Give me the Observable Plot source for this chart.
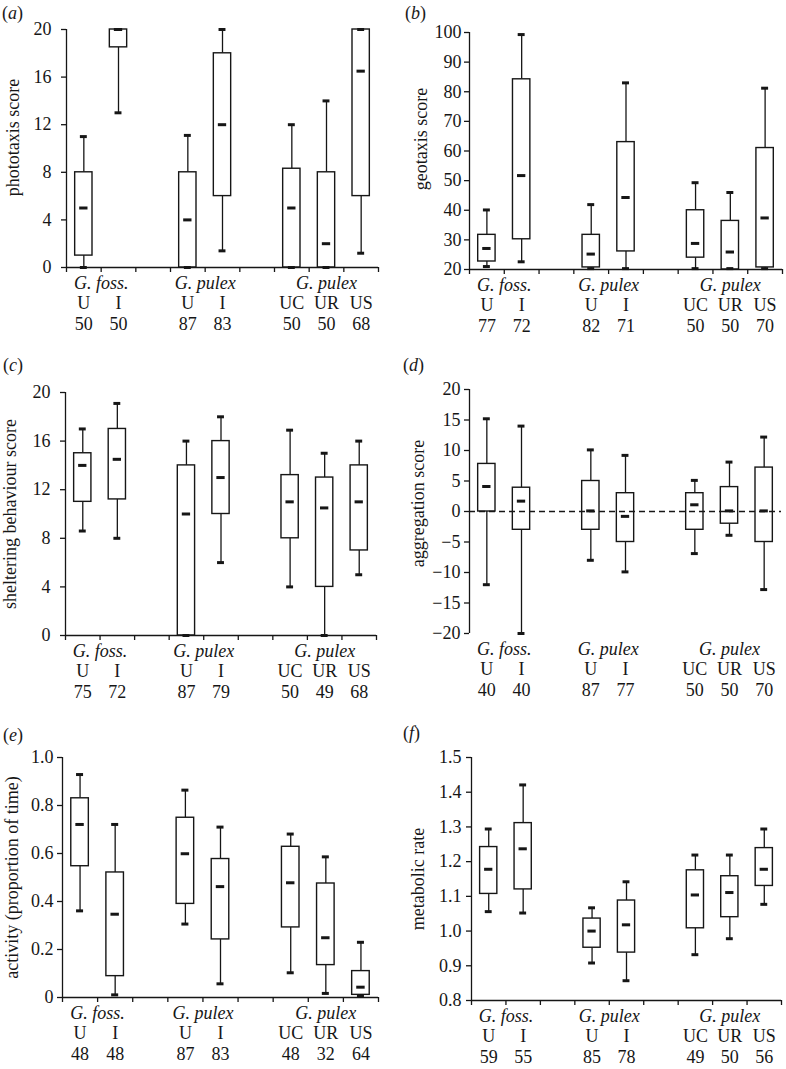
<!DOCTYPE html>
<html>
<head>
<meta charset="utf-8">
<script src="https://cdn.jsdelivr.net/npm/d3@7"></script>
<script src="https://cdn.jsdelivr.net/npm/@observablehq/plot@0.6"></script>
<style>
  body { margin: 0; background: #fff; }
  #root { position: relative; width: 786px; height: 1069px; overflow: hidden; font-family: "Liberation Serif", "Times New Roman", serif; color: #1a1a1a; }
  .panel { position: absolute; }
  .plabel { position: absolute; font-size: 18px; line-height: 20px; }
  .plabel i { font-style: italic; }
</style>
</head>
<body>
<div id="root"></div>
<script>
// ---- shared categories ----
const slots = [1, 2, 4, 5, 7, 8, 9];
const conditions = ["U", "I", "U", "I", "UC", "UR", "US"];
const groupLabels = ["G. foss.", "G. pulex", "G. pulex"];
const groupSlots = [1.5, 4.5, 8];
const xDomain = [0.5, 9.5];

// ---- box statistics per panel: [min, q1, median, q3, max] for each condition ----
const phototaxis = [[0,1,5,8,11],[13,18.5,20,20,20],[0,0,4,8,11.1],[1.4,6,12,18,20],[0,0,5,8.3,12],[0,0,2,8,14],[1.2,6,16.5,20,20]];
const nPhototaxis = [50,50,87,83,50,50,68];

const geotaxis = [[21,22.7,27.1,31.7,40.1],[22.6,30.2,51.7,84.2,99.3],[20.3,20.7,25.2,31.7,41.9],[20.3,26.1,44.3,63,83],[20.3,24,28.8,40,49.3],[20.3,20,25.9,36.4,46],[20.3,20.7,37.4,61,81.2]];
const nGeotaxis = [77,72,82,71,50,50,70];

const sheltering = [[8.6,11,14,15,17],[8,11.2,14.5,17,19.1],[0,0,10,14,16],[6,10,13,16,18],[4,8,11,13.2,16.9],[0,4,10.5,13,15],[5,7,11,14,16]];
const nSheltering = [75,72,87,79,50,49,68];

const aggregation = [[-12,0,4.1,7.8,15.2],[-20,-3,1.7,3.9,14],[-8,-3,0.1,5,10.1],[-9.9,-5,-0.8,3,9.2],[-6.9,-3,1.1,3,5.1],[-3.9,-2,0.1,4,8.1],[-12.8,-5,0.1,7.2,12.2]];
const nAggregation = [40,40,87,77,50,50,70];

const activity = [[0.361,0.547,0.721,0.83,0.929],[0.011,0.089,0.347,0.521,0.721],[0.306,0.39,0.599,0.749,0.864],[0.057,0.242,0.462,0.577,0.71],[0.103,0.292,0.478,0.628,0.681],[0.017,0.135,0.249,0.475,0.586],[0.006,0.011,0.043,0.11,0.23]];
const nActivity = [48,48,87,83,48,32,64];

const metabolic = [[1.056,1.107,1.178,1.242,1.294],[1.052,1.12,1.237,1.311,1.421],[0.908,0.952,1.0,1.036,1.067],[0.857,0.938,1.018,1.088,1.142],[0.932,1.008,1.104,1.175,1.219],[0.978,1.04,1.111,1.158,1.219],[1.077,1.13,1.178,1.239,1.294]];
const nMetabolic = [59,55,85,78,49,50,56];

// ---- tick labels ----
const ticksA = [0,4,8,12,16,20];
const ticksB = [20,30,40,50,60,70,80,90,100];
const ticksC = [0,4,8,12,16,20];
const ticksD = [-20,-15,-10,-5,0,5,10,15,20];
const ticksE = [0,0.2,0.4,0.6,0.8,1.0];
const ticksF = [0.8,0.9,1.0,1.1,1.2,1.3,1.4,1.5];

const FONT = '"Liberation Serif", "Times New Roman", serif';
const INK = "#161616";
const TICK_FS = 18, LABEL_FS = 18, ROW_FS = 18;

function panel(o) {
  const rows = slots.map((s, i) => ({
    slot: s, cond: conditions[i], n: o.n[i],
    min: o.data[i][0], q1: o.data[i][1], med: o.data[i][2], q3: o.data[i][3], max: o.data[i][4]
  }));
  const groups = groupLabels.map((g, i) => ({x: groupSlots[i], label: g}));
  const edges = d3.range(xDomain[0], xDomain[1] + 1, 1);
  const yMin = o.yDomain[0];
  const marks = [
    Plot.ruleX(rows, {x: "slot", y1: "min", y2: "q1", stroke: INK, strokeWidth: 1.3}),
    Plot.ruleX(rows, {x: "slot", y1: "q3", y2: "max", stroke: INK, strokeWidth: 1.3}),
    Plot.rect(rows, {x1: d => d.slot - 0.25, x2: d => d.slot + 0.25, y1: "q1", y2: "q3", fill: "white", stroke: INK, strokeWidth: 1.4}),
    Plot.ruleY(rows, {y: "min", x1: d => d.slot - 0.1, x2: d => d.slot + 0.1, stroke: INK, strokeWidth: 3}),
    Plot.ruleY(rows, {y: "max", x1: d => d.slot - 0.1, x2: d => d.slot + 0.1, stroke: INK, strokeWidth: 3}),
    Plot.ruleY(rows, {y: "med", x1: d => d.slot - 0.12, x2: d => d.slot + 0.12, stroke: INK, strokeWidth: 3})
  ];
  if (o.zeroLine) {
    marks.push(Plot.ruleY([0], {x1: xDomain[0], x2: xDomain[1], stroke: INK, strokeWidth: 1.4, strokeDasharray: "6,4"}));
  }
  marks.push(Plot.ruleX([xDomain[0]], {y1: o.yDomain[0], y2: o.yDomain[1], stroke: INK, strokeWidth: 1.3}));
  if (o.xAxis !== false) {
    marks.push(
      Plot.ruleY([yMin], {x1: xDomain[0], x2: xDomain[1], stroke: INK, strokeWidth: 1.3}),
      Plot.axisX({ticks: edges, tickFormat: () => "", tickSize: 5, stroke: INK, strokeWidth: 1.3, label: null})
    );
  }
  marks.push(
    Plot.axisY({ticks: o.yTicks, tickFormat: o.yFormat, tickSize: 5, tickPadding: o.tickPad, stroke: INK, strokeWidth: 1.3, label: null, fontSize: TICK_FS, fill: INK}),
    Plot.text([o.label], {text: d => d, frameAnchor: "left", textAnchor: "middle", lineAnchor: "middle", rotate: -90, dx: -o.labelOffset, dy: o.labelDy || 0, fontSize: LABEL_FS, fill: INK}),
    Plot.text(groups, {x: "x", text: "label", frameAnchor: "bottom", dy: 21, fontSize: ROW_FS, fontStyle: "italic", fill: INK}),
    Plot.text(rows, {x: "slot", text: "cond", frameAnchor: "bottom", dy: 41, fontSize: ROW_FS, fill: INK}),
    Plot.text(rows, {x: "slot", text: d => String(d.n), frameAnchor: "bottom", dy: 62, fontSize: ROW_FS, fill: INK})
  );
  const svg = Plot.plot({
    width: 393, height: o.height,
    marginLeft: o.ml, marginRight: o.mr, marginTop: o.mt, marginBottom: o.mb,
    x: {type: "linear", domain: xDomain, axis: null},
    y: {type: "linear", domain: o.yDomain, axis: null},
    style: {fontFamily: FONT, fontSize: "17px", background: "white", overflow: "visible"},
    marks
  });
  const div = document.createElement("div");
  div.className = "panel";
  div.style.left = o.left + "px";
  div.style.top = o.top + "px";
  div.appendChild(svg);
  document.getElementById("root").appendChild(div);

  const lab = document.createElement("div");
  lab.className = "plabel";
  lab.style.left = o.letterX + "px";
  lab.style.top = o.letterY + "px";
  lab.innerHTML = "(<i>" + o.letter + "</i>)";
  document.getElementById("root").appendChild(lab);
}

const fmtInt = d => String(d).replace("-", "\u2212");
const fmtE = d => d === 0 ? "0" : d.toFixed(1);
const fmtF = d => d.toFixed(1);

panel({letter: "a", letterX: 2, letterY: 3, left: 0, top: 0, height: 345, ml: 66, mr: 15, mt: 29, mb: 78, tickPad: 10,
  data: phototaxis, n: nPhototaxis, yDomain: [0, 20], yTicks: ticksA, yFormat: fmtInt,
  label: "phototaxis score", labelOffset: 53, labelDy: -11});
panel({letter: "b", letterX: 405, letterY: 3, left: 393, top: 0, height: 345, ml: 76, mr: 4, mt: 32, mb: 76, tickPad: 3,
  data: geotaxis, n: nGeotaxis, yDomain: [20, 100], yTicks: ticksB, yFormat: fmtInt,
  label: "geotaxis score", labelOffset: 48, labelDy: -12});
panel({letter: "c", letterX: 3, letterY: 355, left: 0, top: 345, height: 355, ml: 65, mr: 17, mt: 47, mb: 65, tickPad: 10,
  data: sheltering, n: nSheltering, yDomain: [0, 20], yTicks: ticksC, yFormat: fmtInt,
  label: "sheltering behaviour score", labelOffset: 55, labelDy: 0});
panel({letter: "d", letterX: 403, letterY: 355, left: 393, top: 345, height: 355, ml: 76, mr: 5, mt: 44, mb: 67, tickPad: 4,
  data: aggregation, n: nAggregation, yDomain: [-20, 20], yTicks: ticksD, yFormat: fmtInt,
  label: "aggregation score", labelOffset: 51, labelDy: -8, xAxis: false, zeroLine: true});
panel({letter: "e", letterX: 3, letterY: 725, left: 0, top: 700, height: 369, ml: 62, mr: 15, mt: 57, mb: 72, tickPad: 4,
  data: activity, n: nActivity, yDomain: [0, 1], yTicks: ticksE, yFormat: fmtE,
  label: "activity (proportion of time)", labelOffset: 50, labelDy: 0});
panel({letter: "f", letterX: 403, letterY: 723, left: 393, top: 700, height: 369, ml: 78, mr: 5, mt: 57, mb: 69, tickPad: 5,
  data: metabolic, n: nMetabolic, yDomain: [0.8, 1.5], yTicks: ticksF, yFormat: fmtF,
  label: "metabolic rate", labelOffset: 53, labelDy: 0});
</script>
</body>
</html>
